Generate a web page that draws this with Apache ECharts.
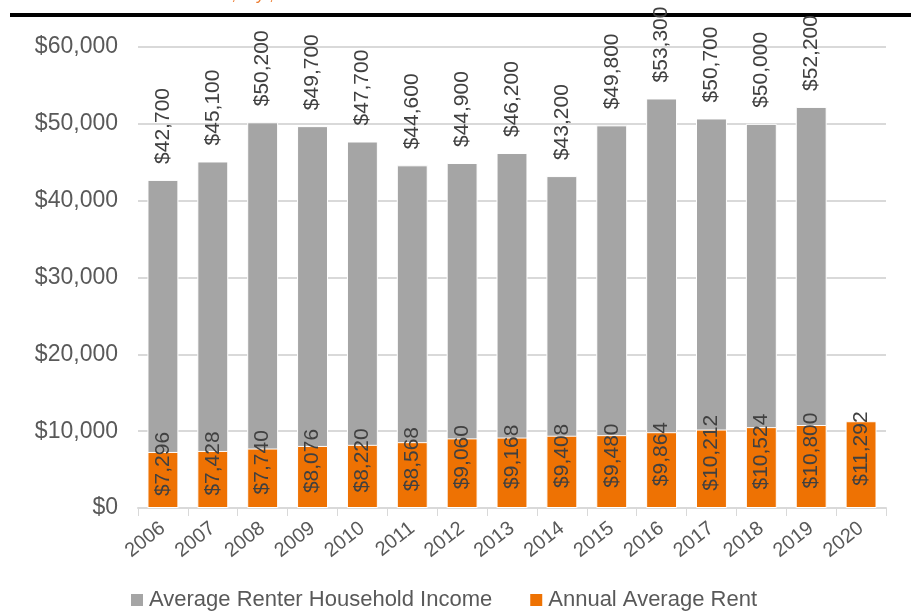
<!DOCTYPE html>
<html>
<head>
<meta charset="utf-8">
<script src="https://cdn.jsdelivr.net/npm/echarts@6/dist/echarts.min.js"></script>
<style>
  html, body { margin: 0; padding: 0; background: #fff; }
  #chart { width: 911px; height: 616px; }
</style>
</head>
<body>
<div id="chart"></div>
<script>
const years = ['2006', '2007', '2008', '2009', '2010', '2011', '2012', '2013', '2014', '2015', '2016', '2017', '2018', '2019', '2020'];
const income = [42700, 45100, 50200, 49700, 47700, 44600, 44900, 46200, 43200, 49800, 53300, 50700, 50000, 52200, null];
const rent = [7296, 7428, 7740, 8076, 8220, 8568, 9060, 9168, 9408, 9480, 9864, 10212, 10524, 10800, 11292];
const yTicks = [0, 10000, 20000, 30000, 40000, 50000, 60000];

const money = v => '$' + v.toLocaleString('en-US');
const font = '"Liberation Sans", Arial, sans-serif';

const chart = echarts.init(document.getElementById('chart'));

const option = {
  animation: false,
  textStyle: { fontFamily: font },
  graphic: [
    { type: 'rect', shape: { x: 10, y: 13, width: 901, height: 4 }, style: { fill: '#000' } },
    { type: 'text', left: 133, top: -13, style: { text: 'Source: ACS, 1-yr, 2006-19', fill: '#ED7D31', font: '17px ' + font } }
  ],
  grid: { left: 138, right: 25, top: 47, bottom: 108 },
  legend: {
    bottom: 0,
    left: 124,
    itemWidth: 14,
    itemHeight: 14,
    itemGap: 36,
    icon: 'rect',
    textStyle: { fontSize: 22, color: '#595959', fontFamily: font }
  },
  xAxis: {
    type: 'category',
    data: years,
    axisLine: { lineStyle: { color: '#d9d9d9', width: 2 } },
    axisTick: { show: true, length: 8, lineStyle: { color: '#d9d9d9' } },
    axisLabel: { rotate: 38, fontSize: 20, color: '#595959', margin: 18 }
  },
  yAxis: {
    type: 'value',
    min: 0,
    max: 60000,
    interval: 10000,
    axisLine: { show: false },
    axisTick: { show: false },
    splitLine: { lineStyle: { color: '#d9d9d9', width: 2 } },
    axisLabel: { fontSize: 23, color: '#595959', margin: 20, formatter: v => yTicks.includes(v) ? money(v) : '' }
  },
  series: [
    {
      name: 'Average Renter Household Income',
      type: 'bar',
      data: income,
      barWidth: '62%',
      barGap: '-100%',
      itemStyle: { color: '#A5A5A5', borderColor: '#fff', borderWidth: 1 },
      label: {
        show: true,
        position: 'top',
        rotate: 90,
        align: 'left',
        verticalAlign: 'middle',
        distance: 16,
        fontSize: 21,
        color: '#404040',
        formatter: p => money(p.value)
      }
    },
    {
      name: 'Annual Average Rent',
      type: 'bar',
      data: rent,
      barWidth: '62%',
      itemStyle: { color: '#EE7203', borderColor: '#fff', borderWidth: 1 },
      label: {
        show: true,
        position: 'inside',
        offset: [16, 0],
        rotate: 90,
        fontSize: 21,
        color: '#404040',
        formatter: p => money(p.value)
      }
    }
  ]
};

chart.setOption(option);
</script>
</body>
</html>
